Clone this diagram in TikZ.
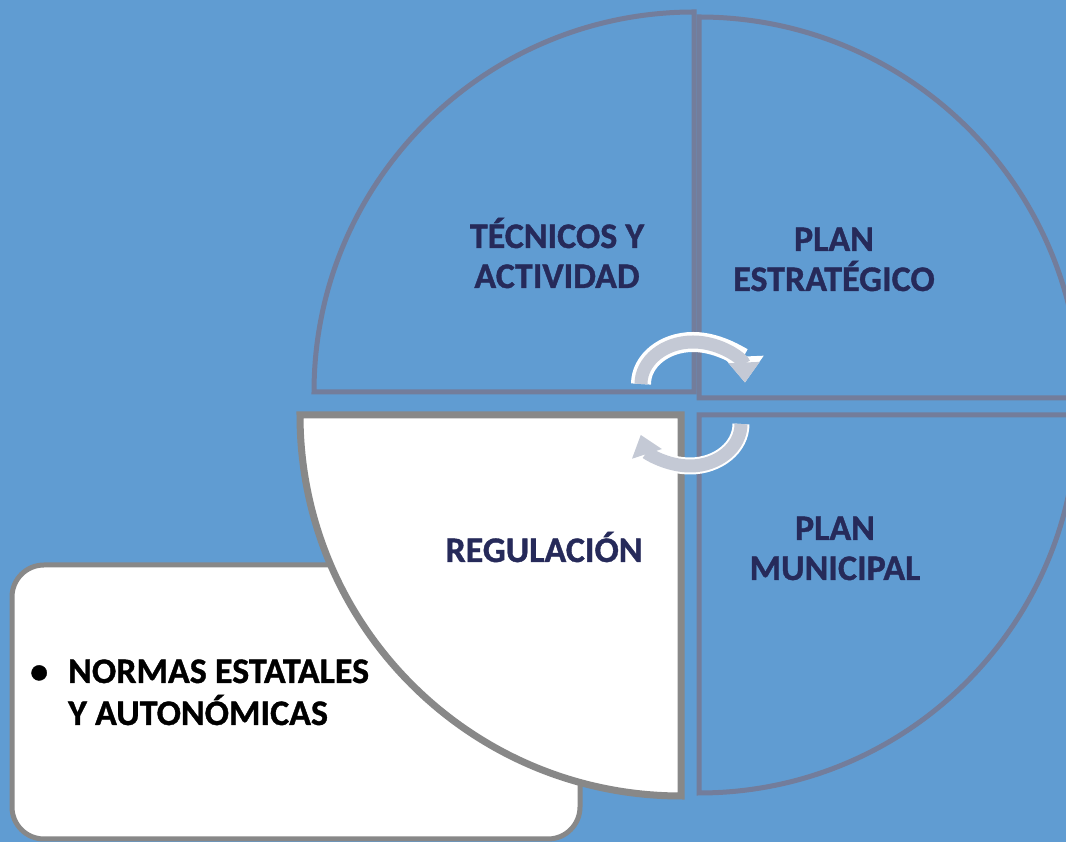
\documentclass[tikz,border=0pt]{standalone}
\usepackage{fontspec}
\setmainfont{Carlito}[BoldFeatures={FakeBold=1}]
\usepackage{tikz}
\usetikzlibrary{arrows.meta, positioning}
\definecolor{bgcol}{RGB}{96,156,210}
\definecolor{quadline}{RGB}{115,125,155}
\definecolor{whiteline}{RGB}{136,136,136}
\definecolor{textcol}{RGB}{38,42,90}
\definecolor{cyclecol}{RGB}{196,201,213}

\begin{document}
\begin{tikzpicture}[
        x=1pt, y=1pt,
        quad/.style={draw=quadline, line width=5pt, line join=miter},
        wquad/.style={draw=whiteline, line width=7pt, fill=white, line join=miter},
        notebox/.style={draw=whiteline, line width=5pt, fill=white, rounded corners=32pt},
        quadtext/.style={font=\fontsize{36}{40}\selectfont\bfseries, text=textcol, align=center, inner sep=0pt, anchor=base},
        cycleback/.style={draw=white, line width=20pt, -{Triangle[width=38pt, length=26pt]}},
        cyclefront/.style={draw=cyclecol, line width=13pt, -{Triangle[width=30pt, length=20pt]}}
    ]

    % Canvas
    \useasboundingbox (0,0) rectangle (1066,842);
    \clip (0,0) rectangle (1066,842);
    \fill[bgcol] (0,0) rectangle (1066,842);

    % Note box
    \draw[notebox] (12,3) rectangle (580,277);

    % Quadrants
    \draw[quad] (694,450) -- (314,450) arc[start angle=180, end angle=90, radius=380] -- cycle;
    \draw[quad] (699,444) -- (699,825) arc[start angle=90, end angle=0, radius=381] -- cycle;
    \draw[quad] (699,427) -- (1077,427) arc[start angle=0, end angle=-90, radius=378] -- cycle;
    \draw[wquad] (681,427) -- (681,46) arc[start angle=-90, end angle=-180, radius=381] -- cycle;

    % Cycle arrows
    \draw[cycleback] (641,458) arc[start angle=180, end angle=2, x radius=52, y radius=42];
    \draw[cyclefront] (641,458) arc[start angle=180, end angle=2, x radius=52, y radius=42];
    \draw[cycleback, line width=17pt] (741,418) arc[start angle=0, end angle=-165, x radius=51, y radius=42];
    \draw[cyclefront] (741,418) arc[start angle=0, end angle=-165, x radius=51, y radius=42];

    % Labels (base = last line)
    \node[quadtext] (tecnicos) at (557,554) {TÉCNICOS Y\\ACTIVIDAD};
    \node[quadtext] (estrategico) at (834,551) {PLAN\\ESTRATÉGICO};
    \node[quadtext] (regulacion) at (544,280) {REGULACIÓN};
    \node[quadtext] (municipal) at (835,262) {PLAN\\MUNICIPAL};

    \node[font=\fontsize{36}{42}\selectfont\bfseries, align=left, inner sep=0pt, anchor=base west] (normas) at (30,117)
        {\makebox[38pt][l]{\textbullet}NORMAS ESTATALES\\\hspace*{38pt}Y AUTONÓMICAS};

\end{tikzpicture}
\end{document}
